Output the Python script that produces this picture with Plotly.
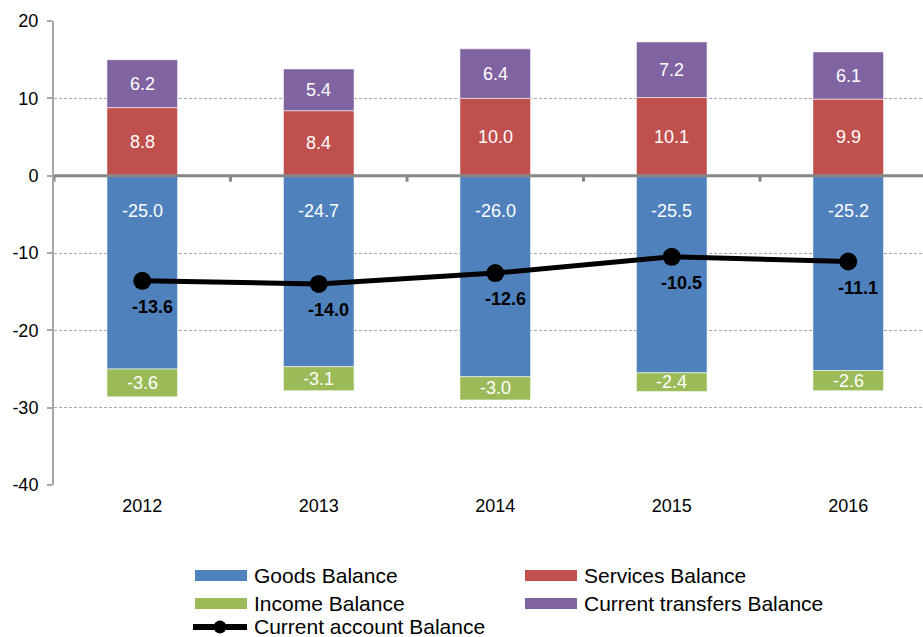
import plotly.graph_objects as go

# Balance of payments components (bn), by year
years = ["2012", "2013", "2014", "2015", "2016"]
goods = [-25.0, -24.7, -26.0, -25.5, -25.2]
services = [8.8, 8.4, 10.0, 10.1, 9.9]
income = [-3.6, -3.1, -3.0, -2.4, -2.6]
transfers = [6.2, 5.4, 6.4, 7.2, 6.1]
current_account = [-13.6, -14.0, -12.6, -10.5, -11.1]

series_names = ["Goods Balance", "Services Balance", "Income Balance",
                "Current transfers Balance", "Current account Balance"]
colors = ["#4F81BD", "#C0504D", "#9BBB59", "#8064A2"]
y_ticks = [-40, -30, -20, -10, 0, 10, 20]

FONT = "Arial, Liberation Sans, sans-serif"
W, H = 923, 637
ML, MR, MT, MB = 54, 0, 21, 152
PW, PH = W - ML - MR, H - MT - MB

fig = go.Figure()

bar_line = dict(color="rgba(255,255,255,0.55)", width=1)
for name, vals, col in [(series_names[0], goods, colors[0]),
                        (series_names[1], services, colors[1]),
                        (series_names[2], income, colors[2]),
                        (series_names[3], transfers, colors[3])]:
    fig.add_trace(go.Bar(x=years, y=vals, name=name, width=0.4,
                         marker=dict(color=col, line=bar_line),
                         showlegend=False, hoverinfo="x+y+name"))

fig.add_trace(go.Scatter(x=years, y=current_account, name=series_names[4],
                         mode="lines+markers",
                         line=dict(color="black", width=5),
                         marker=dict(color="black", size=18),
                         showlegend=False))

annotations = []
lbl_font = dict(family=FONT, size=18, color="white")
for i in range(len(years)):
    # category axis positions are given by index
    # goods label sits near the base of its bar
    annotations.append(dict(x=i, y=0, yshift=-35, text=f"{goods[i]:.1f}",
                            showarrow=False, font=lbl_font))
    annotations.append(dict(x=i, y=services[i] / 2, text=f"{services[i]:.1f}",
                            showarrow=False, font=lbl_font))
    annotations.append(dict(x=i, y=services[i] + transfers[i] / 2,
                            text=f"{transfers[i]:.1f}", showarrow=False, font=lbl_font))
    annotations.append(dict(x=i, y=goods[i] + income[i] / 2, text=f"{income[i]:.1f}",
                            showarrow=False, font=lbl_font))
    annotations.append(dict(x=i, y=current_account[i], xshift=10, yshift=-26,
                            text=f"<b>{current_account[i]:.1f}</b>", showarrow=False,
                            font=dict(family=FONT, size=18, color="black")))

shapes = []
# zero line drawn over the bars
shapes.append(dict(type="line", xref="paper", yref="y", x0=0, x1=1, y0=0, y1=0,
                   line=dict(color="#878787", width=3), layer="above"))
# category separator ticks on the zero line
for k in range(len(years)):
    shapes.append(dict(type="line", xref="x", yref="y", ysizemode="pixel", yanchor=0,
                       x0=k - 0.5, x1=k - 0.5, y0=0, y1=-6,
                       line=dict(color="#878787", width=3), layer="above"))

# legend drawn below the plot
def px_x(px):
    return (px - ML) / PW

def px_y(py):
    return (H - MB - py) / PH

LEG_FONT = dict(family=FONT, size=21, color="black")
legend_items = [
    (series_names[0], colors[0], 195, 575.5),
    (series_names[1], colors[1], 525, 575.5),
    (series_names[2], colors[2], 195, 603.5),
    (series_names[3], colors[3], 525, 603.5),
]
for name, col, sx, sy in legend_items:
    shapes.append(dict(type="rect", xref="paper", yref="paper",
                       x0=px_x(sx), x1=px_x(sx + 52), y0=px_y(sy + 5.5), y1=px_y(sy - 5.5),
                       fillcolor=col, line=dict(width=0)))
    annotations.append(dict(xref="paper", yref="paper", x=px_x(sx + 57), y=px_y(sy),
                            xanchor="left", yanchor="middle", text=name, showarrow=False,
                            font=LEG_FONT))
ca_y = 627
shapes.append(dict(type="line", xref="paper", yref="paper",
                   x0=px_x(193), x1=px_x(247), y0=px_y(ca_y), y1=px_y(ca_y),
                   line=dict(color="black", width=6)))
shapes.append(dict(type="circle", xref="paper", yref="paper",
                   x0=px_x(213.5), x1=px_x(226.5), y0=px_y(ca_y + 6.5), y1=px_y(ca_y - 6.5),
                   fillcolor="black", line=dict(width=0)))
annotations.append(dict(xref="paper", yref="paper", x=px_x(252), y=px_y(ca_y),
                        xanchor="left", yanchor="middle", text=series_names[4],
                        showarrow=False, font=LEG_FONT))

fig.update_layout(
    width=W, height=H,
    margin=dict(l=ML, r=MR, t=MT, b=MB, pad=0),
    paper_bgcolor="white", plot_bgcolor="white",
    barmode="relative",
    showlegend=False,
    font=dict(family=FONT, size=18, color="black"),
    xaxis=dict(type="category", range=[-0.5, -0.5 + PW / 176.5],
               showgrid=False, zeroline=False, showline=False, ticks="",
               tickfont=dict(size=18, color="black"), ticklabelstandoff=8),
    yaxis=dict(range=[-40, 20], tickvals=y_ticks, ticktext=[str(v) for v in y_ticks],
               ticks="outside", ticklen=5,
               tickwidth=2, tickcolor="#A6A6A6",
               showline=True, linecolor="#A6A6A6", linewidth=2,
               showgrid=True, gridcolor="#A6A6A6", gridwidth=1, griddash="3px,2px",
               zeroline=False, tickfont=dict(size=18, color="black"),
               ticklabelstandoff=5),
    shapes=shapes,
    annotations=annotations,
)

fig.write_html("out.html")
